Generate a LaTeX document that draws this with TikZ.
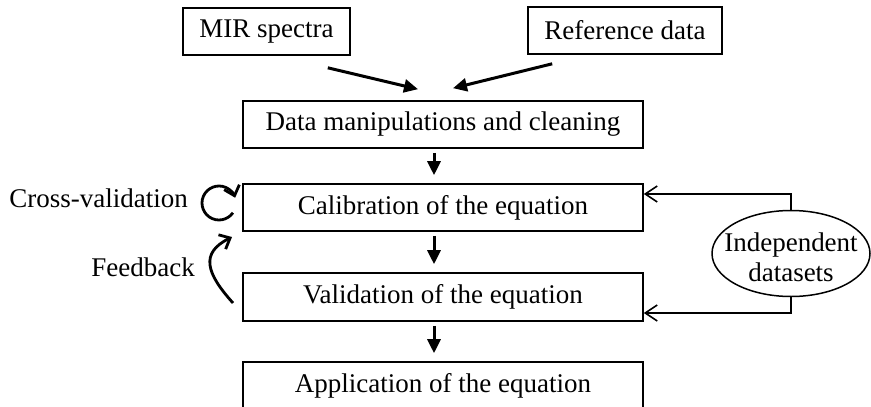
\documentclass[tikz,border=0pt]{standalone}
\usepackage{fontspec}
\setmainfont{Liberation Serif}
\usetikzlibrary{arrows.meta,shapes.geometric}
\begin{document}
\begin{tikzpicture}[x=1pt,y=-1pt,
  box/.style={draw, line width=1.6pt, rectangle, inner sep=0pt, minimum height=47pt, font=\fontsize{27}{30}\selectfont},
  lbl/.style={inner sep=0pt, font=\fontsize{27}{30}\selectfont},
  downarr/.style={line width=3pt, -{Triangle[length=14pt,width=13pt]}},
  sidearr/.style={line width=1.6pt, -{Straight Barb[length=12pt,width=16pt]}},
  bentarr/.style={line width=2.8pt, -{Straight Barb[length=9pt,width=16pt]}}
]
\clip (0,0) rectangle (871,407);
\fill[white] (0,0) rectangle (871,407);

% boxes
\node[box, minimum width=167pt] (mir) at (266.5,31.5) {MIR spectra};
\node[box, minimum width=194pt] (ref) at (625,30.5) {Reference data};
\node[box, minimum width=400pt] (data) at (443,124.5) {Data manipulations and cleaning};
\node[box, minimum width=400pt] (cal) at (443,207.5) {Calibration of the equation};
\node[box, minimum width=400pt, minimum height=48pt] (val) at (443,297) {Validation of the equation};
\node[box, minimum width=400pt] (app) at (443,385.5) {Application of the equation};

% inputs
\draw[downarr] ([xshift=-23pt,yshift=-12pt]mir.south east) -- ([xshift=-25pt,yshift=11pt]data.north);
\draw[downarr] ([xshift=25pt,yshift=-9pt]ref.south west) -- ([xshift=10pt,yshift=12pt]data.north);

% down arrows
\draw[downarr] ([xshift=-9pt,yshift=-4pt]data.south) -- ([xshift=-9pt,yshift=8pt]cal.north);
\draw[downarr] ([xshift=-9pt,yshift=-4pt]cal.south) -- ([xshift=-9pt,yshift=8pt]val.north);
\draw[downarr] ([xshift=-9pt,yshift=-4pt]val.south) -- ([xshift=-9pt,yshift=8pt]app.north);

% left labels
\node[lbl, anchor=base east] (cvl) at (188,207) {Cross-validation};
\node[lbl, anchor=base east] (fbl) at (195,276) {Feedback};
\coordinate (cv) at (219,203);
\draw[bentarr] (cv) ++(-35:17pt) arc[start angle=-35, end angle=-342, radius=17pt];
\coordinate (fbs) at (233,303);
\coordinate (fbe) at (232,237);
\draw[bentarr] (fbs) .. controls (206,273) and (200,253) .. (fbe);

% independent datasets
\node[draw, ellipse, line width=1.5pt, minimum width=158pt, minimum height=86pt, inner sep=0pt] (ind) at (791,253.5) {};
\node[lbl, align=center] (indt) at (791,257) {Independent\\datasets};
\draw[sidearr] (ind.north) |- ([yshift=13.5pt]cal.east);
\draw[sidearr] (ind.south) |- ([yshift=-16pt]val.east);
\end{tikzpicture}
\end{document}
